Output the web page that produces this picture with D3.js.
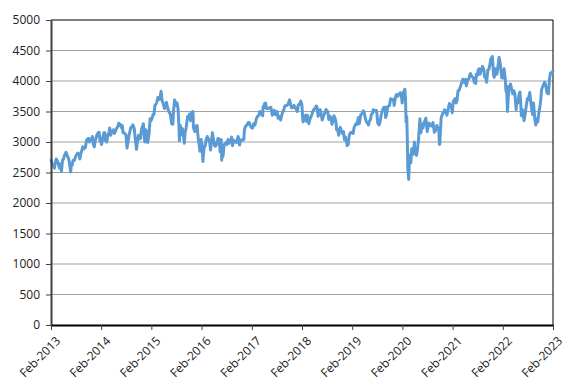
<!DOCTYPE html>
<html>
<head>
<meta charset="utf-8">
<script src="https://cdn.jsdelivr.net/npm/d3@7"></script>
<style>
  body { margin: 0; background: #fff; }
  svg { display: block; font-family: "Open Sans", sans-serif; }
</style>
</head>
<body>
<svg id="chart" width="579" height="386"></svg>
<script>
// index level, roughly every week or so
const dates = [
  "2013-02-01","2013-02-11","2013-02-21","2013-02-26","2013-03-01","2013-03-11","2013-03-21","2013-03-28",
  "2013-04-05","2013-04-11","2013-04-18","2013-04-26","2013-05-03","2013-05-10","2013-05-21","2013-05-31",
  "2013-06-07","2013-06-14","2013-06-24","2013-06-28","2013-07-05","2013-07-12","2013-07-22","2013-07-31",
  "2013-08-09","2013-08-15","2013-08-23","2013-08-30","2013-09-06","2013-09-13","2013-09-20","2013-09-30",
  "2013-10-09","2013-10-18","2013-10-25","2013-10-31","2013-11-07","2013-11-15","2013-11-22","2013-11-29",
  "2013-12-06","2013-12-13","2013-12-20","2013-12-31",
  "2014-01-10","2014-01-17","2014-01-24","2014-01-31","2014-02-04","2014-02-14","2014-02-21","2014-02-28",
  "2014-03-03","2014-03-14","2014-03-21","2014-03-31","2014-04-04","2014-04-11","2014-04-17","2014-04-30",
  "2014-05-07","2014-05-15","2014-05-23","2014-05-30","2014-06-09","2014-06-13","2014-06-20","2014-06-30",
  "2014-07-04","2014-07-11","2014-07-18","2014-07-31","2014-08-08","2014-08-15","2014-08-22","2014-08-29",
  "2014-09-05","2014-09-12","2014-09-19","2014-09-30","2014-10-03","2014-10-10","2014-10-16","2014-10-24","2014-10-31",
  "2014-11-07","2014-11-14","2014-11-21","2014-11-28","2014-12-05","2014-12-12","2014-12-16","2014-12-23","2014-12-31",
  "2015-01-06","2015-01-16","2015-01-23","2015-01-30","2015-02-06","2015-02-13","2015-02-20","2015-02-27",
  "2015-03-06","2015-03-13","2015-03-20","2015-03-31","2015-04-07","2015-04-13","2015-04-20","2015-04-30",
  "2015-05-07","2015-05-15","2015-05-22","2015-05-29","2015-06-05","2015-06-12","2015-06-19","2015-06-29","2015-06-30",
  "2015-07-07","2015-07-13","2015-07-20","2015-07-31","2015-08-07","2015-08-14","2015-08-21","2015-08-24","2015-08-31",
  "2015-09-07","2015-09-14","2015-09-21","2015-09-29","2015-10-05","2015-10-12","2015-10-23","2015-10-30",
  "2015-11-06","2015-11-13","2015-11-20","2015-11-30","2015-12-02","2015-12-04","2015-12-14","2015-12-22","2015-12-31",
  "2016-01-07","2016-01-15","2016-01-20","2016-01-29","2016-02-05","2016-02-11","2016-02-19","2016-02-29",
  "2016-03-04","2016-03-14","2016-03-22","2016-03-31","2016-04-07","2016-04-15","2016-04-20","2016-04-29",
  "2016-05-06","2016-05-13","2016-05-20","2016-05-31","2016-06-08","2016-06-16","2016-06-23","2016-06-27","2016-06-30",
  "2016-07-06","2016-07-15","2016-07-22","2016-07-29","2016-08-05","2016-08-12","2016-08-19","2016-08-31",
  "2016-09-07","2016-09-13","2016-09-23","2016-09-30","2016-10-07","2016-10-14","2016-10-24","2016-10-31",
  "2016-11-04","2016-11-09","2016-11-18","2016-11-30","2016-12-05","2016-12-09","2016-12-16","2016-12-30",
  "2017-01-06","2017-01-13","2017-01-20","2017-01-31","2017-02-07","2017-02-14","2017-02-24","2017-02-28",
  "2017-03-07","2017-03-15","2017-03-24","2017-03-31","2017-04-07","2017-04-13","2017-04-21","2017-04-24","2017-04-28",
  "2017-05-05","2017-05-12","2017-05-18","2017-05-31","2017-06-07","2017-06-16","2017-06-20","2017-06-30",
  "2017-07-07","2017-07-14","2017-07-21","2017-07-31","2017-08-04","2017-08-11","2017-08-18","2017-08-29",
  "2017-09-08","2017-09-15","2017-09-22","2017-09-29","2017-10-06","2017-10-13","2017-10-20","2017-10-31",
  "2017-11-03","2017-11-10","2017-11-17","2017-11-30","2017-12-05","2017-12-14","2017-12-22","2017-12-29",
  "2018-01-05","2018-01-12","2018-01-23","2018-01-31","2018-02-06","2018-02-09","2018-02-16","2018-02-28",
  "2018-03-05","2018-03-12","2018-03-23","2018-03-29","2018-04-06","2018-04-13","2018-04-20","2018-04-30",
  "2018-05-08","2018-05-15","2018-05-22","2018-05-29","2018-06-06","2018-06-14","2018-06-22","2018-06-28",
  "2018-07-06","2018-07-13","2018-07-26","2018-07-31","2018-08-07","2018-08-15","2018-08-24","2018-08-31",
  "2018-09-07","2018-09-14","2018-09-21","2018-09-28","2018-10-05","2018-10-11","2018-10-19","2018-10-26","2018-10-31",
  "2018-11-07","2018-11-16","2018-11-23","2018-11-30","2018-12-07","2018-12-14","2018-12-21","2018-12-27",
  "2019-01-03","2019-01-10","2019-01-18","2019-01-31","2019-02-08","2019-02-15","2019-02-22","2019-02-28",
  "2019-03-08","2019-03-18","2019-03-25","2019-03-29","2019-04-05","2019-04-12","2019-04-23","2019-04-30",
  "2019-05-07","2019-05-14","2019-05-23","2019-05-31","2019-06-06","2019-06-14","2019-06-21","2019-06-28",
  "2019-07-05","2019-07-15","2019-07-26","2019-07-31","2019-08-06","2019-08-15","2019-08-23","2019-08-30",
  "2019-09-06","2019-09-13","2019-09-20","2019-09-30","2019-10-02","2019-10-08","2019-10-18","2019-10-31",
  "2019-11-07","2019-11-15","2019-11-22","2019-11-29","2019-12-03","2019-12-13","2019-12-20","2019-12-31",
  "2020-01-10","2020-01-17","2020-01-24","2020-01-31","2020-02-07","2020-02-14","2020-02-19","2020-02-24","2020-02-28",
  "2020-03-04","2020-03-09","2020-03-12","2020-03-16","2020-03-18","2020-03-24","2020-03-31",
  "2020-04-03","2020-04-09","2020-04-21","2020-04-29","2020-04-30","2020-05-05","2020-05-14","2020-05-22","2020-05-29",
  "2020-06-08","2020-06-15","2020-06-23","2020-06-30","2020-07-07","2020-07-21","2020-07-31",
  "2020-08-07","2020-08-14","2020-08-21","2020-08-31","2020-09-04","2020-09-11","2020-09-21","2020-09-30",
  "2020-10-09","2020-10-16","2020-10-23","2020-10-28","2020-10-30","2020-11-06","2020-11-09","2020-11-20","2020-11-30",
  "2020-12-04","2020-12-11","2020-12-21","2020-12-31",
  "2021-01-08","2021-01-15","2021-01-22","2021-01-29","2021-02-05","2021-02-12","2021-02-19","2021-02-26",
  "2021-03-05","2021-03-12","2021-03-19","2021-03-31","2021-04-09","2021-04-16","2021-04-23","2021-04-30",
  "2021-05-07","2021-05-12","2021-05-21","2021-05-31","2021-06-04","2021-06-11","2021-06-18","2021-06-30",
  "2021-07-08","2021-07-19","2021-07-23","2021-07-30","2021-08-06","2021-08-13","2021-08-19","2021-08-31",
  "2021-09-06","2021-09-17","2021-09-20","2021-09-30","2021-10-06","2021-10-15","2021-10-22","2021-10-29",
  "2021-11-05","2021-11-17","2021-11-26","2021-11-30","2021-12-03","2021-12-10","2021-12-20","2021-12-31",
  "2022-01-05","2022-01-14","2022-01-24","2022-01-31","2022-02-04","2022-02-10","2022-02-18","2022-02-24","2022-02-28",
  "2022-03-07","2022-03-11","2022-03-18","2022-03-29","2022-04-08","2022-04-14","2022-04-22","2022-04-29",
  "2022-05-09","2022-05-13","2022-05-20","2022-05-31","2022-06-06","2022-06-14","2022-06-16","2022-06-24","2022-06-30",
  "2022-07-05","2022-07-15","2022-07-22","2022-07-29","2022-08-05","2022-08-16","2022-08-26","2022-08-31",
  "2022-09-06","2022-09-12","2022-09-23","2022-09-29","2022-10-07","2022-10-13","2022-10-21","2022-10-31",
  "2022-11-04","2022-11-10","2022-11-23","2022-11-30","2022-12-01","2022-12-09","2022-12-20","2022-12-30",
  "2023-01-06","2023-01-13","2023-01-20","2023-01-31","2023-02-01"
];

const values = [
  2720,2610,2620,2570,2630,2720,2680,2620,
  2570,2640,2520,2700,2720,2780,2830,2770,
  2740,2680,2510,2600,2620,2700,2700,2770,
  2800,2820,2800,2720,2810,2860,2920,2890,
  2910,3030,3050,3060,3000,3050,3030,3090,
  2960,2920,3020,3110,
  3150,3160,3010,3010,2960,3090,3150,3150,
  3030,3000,3110,3160,3230,3110,3160,3200,
  3140,3170,3220,3240,3310,3270,3290,3230,
  3270,3150,3150,3120,2900,3000,3100,3170,
  3240,3240,3280,3220,3140,3000,2880,3030,3110,
  3050,3060,3200,3250,3300,3070,3000,3200,3150,
  2990,3150,3380,3350,3390,3450,3450,3600,
  3620,3650,3730,3700,3760,3830,3680,3620,
  3550,3610,3650,3570,3520,3480,3460,3300,3420,
  3290,3520,3690,3600,3640,3550,3250,3020,3270,
  3120,3220,3130,2980,3160,3230,3420,3420,
  3460,3350,3470,3500,3450,3240,3170,3260,3270,
  3080,2950,2850,3040,2950,2680,2900,2950,
  3020,3090,3050,3000,2870,3050,3150,3030,
  2940,2930,2960,3060,3040,2840,3040,2700,2860,
  2760,2960,2970,2990,2960,3040,2980,3020,
  3080,2940,3030,3000,3010,2990,3090,3050,
  2950,3030,3020,3050,3040,3200,3250,3290,
  3320,3320,3270,3230,3230,3300,3280,3320,
  3390,3420,3440,3500,3470,3450,3430,3580,3560,
  3630,3640,3550,3550,3560,3550,3570,3440,
  3460,3520,3450,3450,3500,3390,3420,3360,
  3450,3500,3530,3590,3600,3600,3610,3670,
  3690,3610,3560,3570,3600,3560,3530,3500,
  3610,3610,3670,3610,3390,3330,3420,3440,
  3340,3440,3300,3360,3410,3440,3500,3540,
  3550,3590,3570,3420,3460,3530,3440,3360,
  3420,3460,3530,3520,3500,3370,3420,3390,
  3290,3340,3430,3400,3340,3200,3200,3110,3200,
  3240,3170,3140,3170,3040,3080,3000,2940,
  2960,3100,3150,3160,3140,3240,3270,3300,
  3290,3400,3300,3350,3450,3460,3510,3480,
  3400,3340,3310,3280,3340,3370,3450,3470,
  3530,3510,3520,3470,3310,3280,3330,3430,
  3490,3540,3570,3570,3400,3440,3580,3600,
  3710,3700,3690,3700,3600,3730,3780,3750,
  3790,3810,3770,3640,3800,3840,3865,3700,3330,
  3420,2960,2550,2450,2385,2720,2790,
  2660,2890,2800,3000,2930,2860,2780,2900,3050,
  3380,3150,3290,3230,3310,3390,3170,
  3250,3310,3270,3270,3260,3320,3160,3190,
  3270,3240,3200,2960,2960,3250,3390,3470,3490,
  3530,3500,3440,3550,
  3630,3600,3600,3480,3650,3690,3710,3640,
  3680,3840,3840,3920,3980,4030,3990,3970,
  4030,3920,4020,4040,4090,4120,4080,4060,
  3980,3960,4110,4090,4180,4200,4110,4200,
  4240,4180,4070,4050,3980,4180,4190,4250,
  4360,4400,4090,4060,4080,4200,4110,4300,
  4390,4270,4050,4170,4050,4200,4050,3830,3920,
  3500,3680,3900,3950,3850,3790,3840,3800,
  3530,3690,3640,3790,3820,3510,3430,3530,3450,
  3350,3480,3600,3710,3690,3810,3610,3520,
  3450,3640,3350,3280,3380,3330,3480,3620,
  3690,3860,3940,3960,3980,3940,3800,3790,
  4020,4130,4120,4160,4180
];

const xTicks = ["2013-02-01","2014-02-01","2015-02-01","2016-02-01","2017-02-01","2018-02-01",
                "2019-02-01","2020-02-01","2021-02-01","2022-02-01","2023-02-01"];
const yTicks = [0,500,1000,1500,2000,2500,3000,3500,4000,4500,5000];

const parse = d3.utcParse("%Y-%m-%d");
const data = dates.map((d, i) => ({date: parse(d), value: values[i]}));

const plotLeft = 51, plotRight = 553, plotTop = 20, plotBottom = 325;

const svg = d3.select("#chart");

const x = d3.scaleUtc()
    .domain([parse(xTicks[0]), parse(xTicks[xTicks.length - 1])])
    .range([plotLeft, plotRight]);

const y = d3.scaleLinear()
    .domain([0, 5000])
    .range([plotBottom, plotTop]);

// gridlines
svg.append("g")
    .selectAll("line")
    .data(yTicks.slice(1, -1))
    .join("line")
    .attr("x1", plotLeft).attr("x2", plotRight)
    .attr("y1", d => y(d)).attr("y2", d => y(d))
    .attr("stroke", "#a0a0a0")
    .attr("stroke-width", 1);

// plot border top/right
svg.append("path")
    .attr("d", `M${plotLeft},${y(5000)}H${plotRight}V${plotBottom}`)
    .attr("fill", "none")
    .attr("stroke", "#000")
    .attr("stroke-width", 1);

// the series
const line = d3.line()
    .x(d => x(d.date))
    .y(d => y(d.value));

svg.append("path")
    .datum(data)
    .attr("d", line)
    .attr("fill", "none")
    .attr("stroke", "#5b9bd5")
    .attr("stroke-width", 3)
    .attr("stroke-linejoin", "round");

// y axis
const yAxis = svg.append("g")
    .attr("transform", `translate(${plotLeft},0)`)
    .call(d3.axisLeft(y).tickValues(yTicks).tickFormat(d3.format("d"))
        .tickSize(5).tickPadding(6).tickSizeOuter(0));
yAxis.select(".domain").attr("stroke", "#404040").attr("stroke-width", 2);
yAxis.selectAll(".tick line").attr("stroke", "#404040");
yAxis.selectAll("text").attr("font-size", 12).attr("fill", "#222")
    .attr("font-family", "'Open Sans', sans-serif");

// x axis
const xAxis = svg.append("g")
    .attr("transform", `translate(0,${plotBottom})`)
    .call(d3.axisBottom(x).tickValues(xTicks.map(parse)).tickSize(5)
        .tickSizeOuter(0).tickFormat(d3.utcFormat("%b-%Y")));
xAxis.select(".domain").attr("stroke", "#000").attr("stroke-width", 2);
xAxis.selectAll(".tick line").attr("stroke", "#404040");
xAxis.selectAll("text")
    .attr("font-size", 12)
    .attr("fill", "#222")
    .attr("font-family", "'Open Sans', sans-serif")
    .attr("text-anchor", "end")
    .attr("dy", "0.35em")
    .attr("transform", "translate(1,8) rotate(-45)");
</script>
</body>
</html>
